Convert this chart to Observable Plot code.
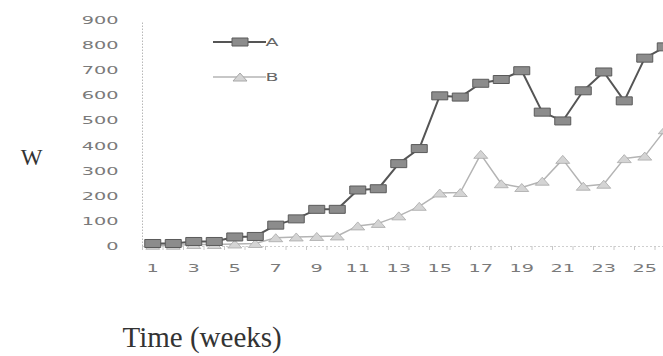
<!DOCTYPE html>
<html>
<head>
<meta charset="utf-8">
<script src="https://cdn.jsdelivr.net/npm/d3@7"></script>
<script src="https://cdn.jsdelivr.net/npm/@observablehq/plot@0.6"></script>
<style>
  html, body { margin: 0; padding: 0; background: #fff; }
</style>
</head>
<body>
<div id="chart"></div>
<script>
// ---- data ----
const weeks = d3.range(1, 27);
const seriesA = [12, 12, 20, 20, 38, 40, 85, 110, 148, 148, 225, 230, 330, 390, 600, 595, 650, 665, 700, 535, 500, 620, 695, 580, 750, 795];
const seriesB = [5, 5, 8, 8, 10, 12, 35, 38, 40, 42, 82, 92, 122, 160, 213, 215, 367, 250, 235, 260, 347, 240, 248, 350, 360, 465];
const xTickLabels = [1, 3, 5, 7, 9, 11, 13, 15, 17, 19, 21, 23, 25];
const yTicks = [0, 100, 200, 300, 400, 500, 600, 700, 800, 900];
const seriesNames = ["A", "B"];
const yTitle = "W";
const xTitle = "Time (weeks)";

const rowsA = weeks.map((w, i) => ({week: w, value: seriesA[i]}));
const rowsB = weeks.map((w, i) => ({week: w, value: seriesB[i]}));

const rectSymbol = {draw(ctx) { ctx.rect(-8, -4, 16, 8); }};
const triSymbol = {draw(ctx) { ctx.moveTo(0, -4); ctx.lineTo(7, 4); ctx.lineTo(-7, 4); ctx.closePath(); }};

const W = 663, H = 356;
const chart = Plot.plot({
  width: W,
  height: H,
  marginLeft: 142,
  marginTop: 20,
  marginBottom: 110,
  marginRight: 0,
  style: {background: "#fff", fontFamily: "DejaVu Sans, sans-serif"},
  x: {domain: [0.5, 26.5], range: [142, 675]},
  y: {domain: [0, 900], range: [246, 20]},
  marks: [
    // axis lines
    Plot.ruleX([0.5], {y1: 0, y2: 890, stroke: "#b8b8b8", strokeDasharray: "1.5,1.5", strokeWidth: 1}),
    Plot.ruleY([0], {x1: 0.5, x2: 26.5, stroke: "#cfcfcf", strokeDasharray: "2,2", strokeWidth: 1}),
    Plot.axisX({ticks: d3.range(0.5, 27, 1), tickSize: 4, text: null, label: null, stroke: "#c8c8c8"}),
    Plot.axisX({ticks: xTickLabels, tickSize: 0, tickPadding: 18, fontSize: 11, fill: "#7a7a7a", label: null, tickFormat: d => String(d)}),
    Plot.axisY({ticks: yTicks, tickSize: 0, tickPadding: 24, fontSize: 11, fill: "#7a7a7a", label: null, tickFormat: d => String(d)}),
    // series B
    Plot.line(rowsB, {x: "week", y: "value", stroke: "#b4b4b4", strokeWidth: 1.5}),
    Plot.dot(rowsB, {x: "week", y: "value", symbol: triSymbol, fill: "#d4d4d4", stroke: "#a8a8a8", strokeWidth: 0.8}),
    // series A
    Plot.line(rowsA, {x: "week", y: "value", stroke: "#555", strokeWidth: 2}),
    Plot.dot(rowsA, {x: "week", y: "value", symbol: rectSymbol, fill: "#8c8c8c", stroke: "#5a5a5a", strokeWidth: 1}),
    // titles
    Plot.text([yTitle], {frameAnchor: "top-left", dx: 31 - 142, dy: 148 - 20, fontSize: 23, fontFamily: "Liberation Serif, serif", fill: "#333", textAnchor: "middle"}),
    Plot.text([xTitle], {frameAnchor: "bottom-left", dx: 122 - 142, dy: 100, fontSize: 29, fontFamily: "Liberation Serif, serif", fill: "#333", textAnchor: "start", lineAnchor: "bottom"})
  ]
});

document.getElementById("chart").appendChild(chart);

// stretch tick labels horizontally like the reference
const svg = d3.select(chart);
svg.selectAll('g[aria-label="y-axis tick label"] text, g[aria-label="x-axis tick label"] text').each(function() {
  const len = this.getComputedTextLength();
  if (len > 0) {
    this.setAttribute("textLength", (len * 1.75).toFixed(1));
    this.setAttribute("lengthAdjust", "spacingAndGlyphs");
  }
});

// legend
const legend = svg.append("g").attr("aria-label", "legend");
const legendItems = [
  {name: seriesNames[0], stroke: "#555", sw: 2, sym: rectSymbol, fill: "#8c8c8c", symStroke: "#5a5a5a", y: 42},
  {name: seriesNames[1], stroke: "#b4b4b4", sw: 1.5, sym: triSymbol, fill: "#d4d4d4", symStroke: "#a8a8a8", y: 77}
];
legendItems.forEach(d => {
  const g = legend.append("g").attr("transform", `translate(0,${d.y})`);
  g.append("line").attr("x1", 213).attr("x2", 266).attr("y1", 0).attr("y2", 0).attr("stroke", d.stroke).attr("stroke-width", d.sw);
  g.append("path").attr("transform", "translate(240,0)").attr("d", d3.symbol(d.sym)()).attr("fill", d.fill).attr("stroke", d.symStroke);
  g.append("text").attr("x", 272).attr("y", 0).attr("dy", "0.35em").attr("font-size", 11).attr("fill", "#666")
    .attr("font-family", "DejaVu Sans, sans-serif").attr("textLength", 13).attr("lengthAdjust", "spacingAndGlyphs").text(d.name);
});
</script>
</body>
</html>
